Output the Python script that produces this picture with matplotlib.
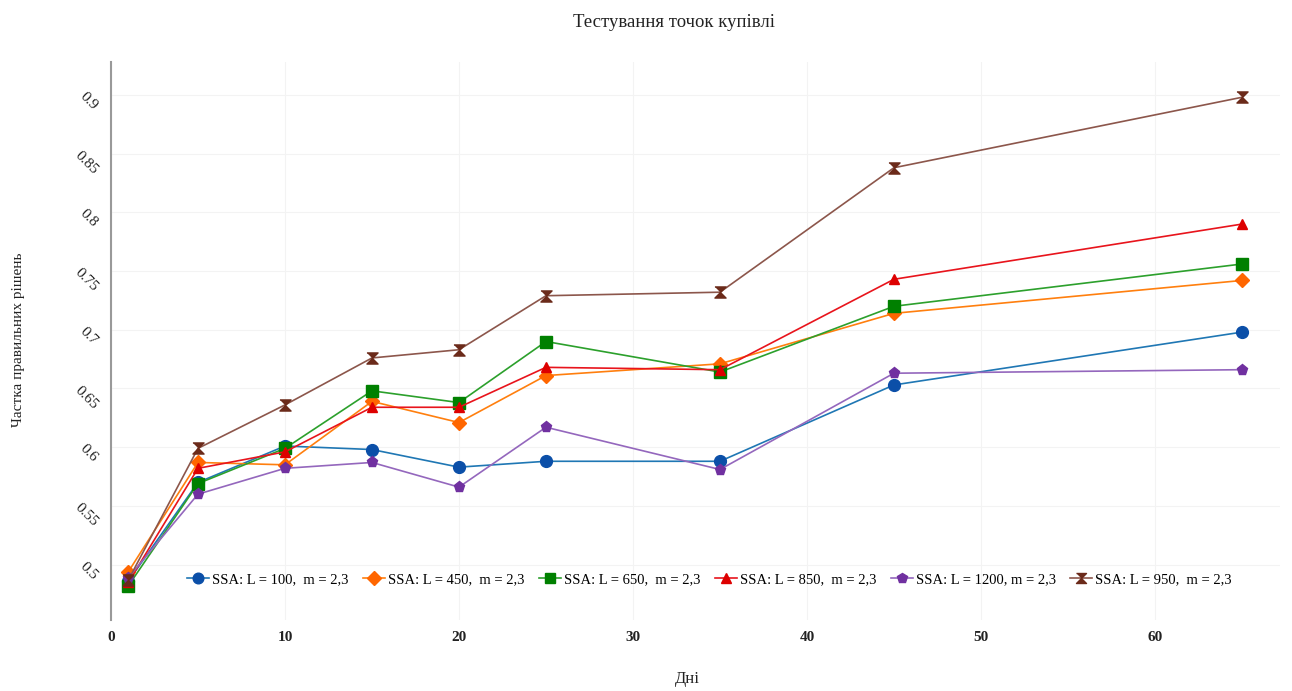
import matplotlib
matplotlib.use('Agg')
import matplotlib.pyplot as plt

# дані
days = [1, 5, 10, 15, 20, 25, 35, 45, 65]
l100 = [0.486, 0.570, 0.601, 0.598, 0.583, 0.588, 0.588, 0.653, 0.698]
l450 = [0.494, 0.587, 0.585, 0.639, 0.621, 0.661, 0.671, 0.714, 0.742]
l650 = [0.482, 0.569, 0.599, 0.648, 0.638, 0.690, 0.664, 0.720, 0.756]
l850 = [0.485, 0.582, 0.596, 0.634, 0.634, 0.668, 0.666, 0.743, 0.790]
l1200 = [0.489, 0.560, 0.582, 0.587, 0.566, 0.617, 0.581, 0.663, 0.666]
l950 = [0.487, 0.599, 0.636, 0.676, 0.683, 0.729, 0.732, 0.838, 0.898]

labels = ['SSA: L = 100,  m = 2,3', 'SSA: L = 450,  m = 2,3',
          'SSA: L = 650,  m = 2,3', 'SSA: L = 850,  m = 2,3',
          'SSA: L = 1200, m = 2,3', 'SSA: L = 950,  m = 2,3']
yticks = [0.5, 0.55, 0.6, 0.65, 0.7, 0.75, 0.8, 0.85, 0.9]
ytick_labels = ['0.5', '0.55', '0.6', '0.65', '0.7', '0.75', '0.8', '0.85', '0.9']

hourglass = [(-1, 1), (1, 1), (0, 0), (1, -1), (-1, -1), (0, 0)]
styles = [
    ('#1f77b4', '#0b4fa8', 'o', 8.5),
    ('#ff7f0e', '#ff6600', 'D', 7.5),
    ('#2ca02c', '#008000', 's', 8),
    ('#e8141c', '#dd0000', '^', 7.5),
    ('#9467bd', '#7030a0', 'p', 8),
    ('#8c564b', '#6b2a1a', hourglass, 8),
]

plt.rcParams['font.family'] = ['Liberation Serif', 'DejaVu Serif']

fig = plt.figure(figsize=(12.92, 6.91), dpi=100)
ax = fig.add_axes([0.0859, 0.1027, 0.905, 0.8075])

series = [l100, l450, l650, l850, l1200, l950]
for vals, lab, (lc, mc, mk, ms) in zip(series, labels, styles):
    ax.plot(days, vals, color=lc, linewidth=1.2, marker=mk, markersize=ms,
            markerfacecolor=mc, markeredgecolor=mc, label=lab, zorder=3)

ax.set_xlim(0, 67.2)
ax.set_ylim(0.4528, 0.928)
ax.set_xticks([0, 10, 20, 30, 40, 50, 60])
ax.set_yticks(yticks)
ax.set_yticklabels(ytick_labels, rotation=-45, fontsize=11, color='#222222')
for t in ax.get_xticklabels():
    t.set_fontsize(11)
    t.set_fontweight('bold')
    t.set_color('#222222')
ax.tick_params(axis='x', length=0, pad=8)
ax.tick_params(axis='y', length=0, pad=8)

ax.grid(True, color='#f3f3f3', linewidth=0.8, zorder=0)
for s in ['top', 'right', 'bottom']:
    ax.spines[s].set_visible(False)
ax.spines['left'].set_color('#999999')
ax.spines['left'].set_linewidth(1.5)

fig.text(0.532, 0.017, 'Дні', ha='center', va='center', fontsize=12,
         color='#222222')
fig.text(0.014, 0.508, 'Частка правильних рішень', ha='center', va='center',
         rotation=90, fontsize=11, color='#222222')
fig.text(0.522, 0.968, 'Тестування точок купівлі', ha='center', va='center',
         fontsize=13.5, color='#222222')

ax.legend(loc='center', bbox_to_anchor=(0.512, 0.072), ncol=6, frameon=False,
          fontsize=10.5, handlelength=1.5, handletextpad=0.2,
          columnspacing=1.0, markerscale=0.9)

fig.savefig('out.png', dpi=100)
